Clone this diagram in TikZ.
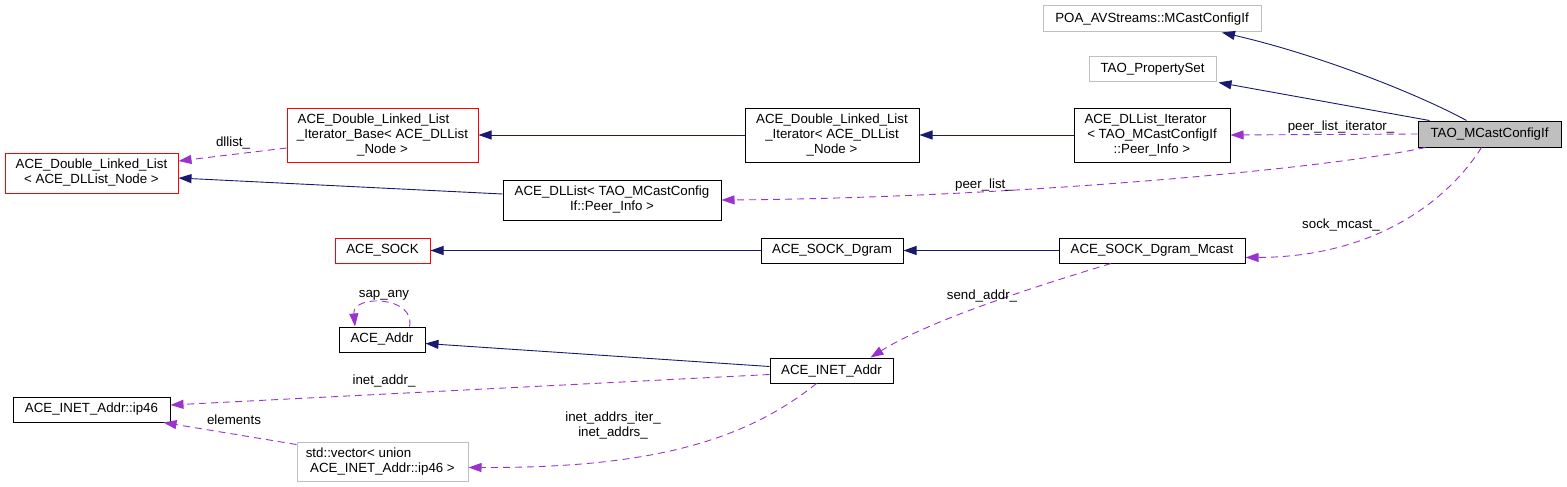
\documentclass[tikz,border=0pt]{standalone}
\usepackage{fontspec}
\setmainfont{Liberation Sans}
\usetikzlibrary{arrows.meta,calc}
\definecolor{navyedge}{HTML}{191970}
\definecolor{purpedge}{HTML}{9A32CD}
\definecolor{grayline}{HTML}{BFBFBF}
\definecolor{redline}{HTML}{FF0000}
\begin{document}
\begin{tikzpicture}[x=1pt,y=-1pt,
  txt/.style={font=\fontsize{13.3}{15}\selectfont},
  box/.style={txt,draw=black,line width=1pt,inner sep=0pt,align=center,fill=white},
  redbox/.style={box,draw=redline},
  graybox/.style={box,draw=grayline},
  lbl/.style={txt,inner sep=0pt,align=center},
  inh/.style={draw=navyedge,line width=0.9pt,-{Triangle[length=13pt,width=9pt]},color=navyedge},
  use/.style={draw=purpedge,line width=0.9pt,dash pattern=on 7pt off 5pt,-{Triangle[length=13pt,width=9pt]},color=purpedge}]
\useasboundingbox (0,0) rectangle (1567,487);
% nodes
\node[graybox,minimum width=218pt,minimum height=26pt] (poa) at (1152,19) {POA\_AVStreams::MCastConfigIf};
\node[graybox,minimum width=127pt,minimum height=25pt] (pset) at (1152.5,69.5) {TAO\_PropertySet};
\node[box,fill=grayline,minimum width=143pt,minimum height=26pt] (tao) at (1489.5,134) {TAO\_MCastConfigIf};
\node[box,minimum width=156pt,minimum height=54pt] (dlit) at (1152,135) {ACE\_DLList\_Iterator\hspace*{13pt}\\{}< TAO\_MCastConfigIf\\::Peer\_Info >};
\node[box,minimum width=174pt,minimum height=54pt] (dllit) at (832,135) {ACE\_Double\_Linked\_List\\\_Iterator< ACE\_DLList\hspace*{18pt}\\\_Node >};
\node[redbox,minimum width=191pt,minimum height=54pt] (itbase) at (382.5,135) {ACE\_Double\_Linked\_List\hspace*{18pt}\\\_Iterator\_Base< ACE\_DLList\\\_Node >};
\node[redbox,minimum width=173pt,minimum height=40pt] (dll) at (91.5,173) {ACE\_Double\_Linked\_List\\{}< ACE\_DLList\_Node >};
\node[box,minimum width=218pt,minimum height=40pt] (dllist) at (612,200) {ACE\_DLList< TAO\_MCastConfig\\If::Peer\_Info >};
\node[redbox,minimum width=95pt,minimum height=25pt] (sock) at (382.5,250.5) {ACE\_SOCK};
\node[box,minimum width=142pt,minimum height=25pt] (sockd) at (832,250.5) {ACE\_SOCK\_Dgram};
\node[box,minimum width=186pt,minimum height=25pt] (mcast) at (1152,250.5) {ACE\_SOCK\_Dgram\_Mcast};
\node[box,minimum width=86pt,minimum height=25pt] (addr) at (382,339.5) {ACE\_Addr};
\node[box,minimum width=123pt,minimum height=25pt] (inet) at (831.5,370.5) {ACE\_INET\_Addr};
\node[box,minimum width=157pt,minimum height=25pt] (ip46) at (91.5,409.5) {ACE\_INET\_Addr::ip46};
\node[graybox,minimum width=171pt,minimum height=39pt] (vec) at (382.5,461.5) {std::vector< union\hspace*{48pt}\\ACE\_INET\_Addr::ip46 >};
% edges
\draw[inh] ($(tao.north)+(-23,0)$) .. controls (1420,95) and (1320,55) .. ($(poa.south)+(70,0)$);
\draw[inh] ($(tao.north)+(-60,0)$) -- ($(pset.south east)+(2,0)$);
\draw[use] (tao.west) -- (dlit.east);
\node[lbl] (l1) at (1341,127) {peer\_list\_iterator\_};
\draw[inh] (dlit.west) -- (dllit.east);
\draw[inh] (dllit.west) -- (itbase.east);
\draw[use] ($(itbase.west)+(0,13)$) -- ($(dll.east)+(0,-12)$);
\node[lbl] (l2) at (233,143) {dllist\_};
\draw[inh] ($(dllist.west)+(0,-6)$) -- ($(dll.east)+(0,5)$);
\draw[use] ($(tao.south west)+(8,0)$) .. controls (1320,170) and (1000,198) .. (dllist.east);
\node[lbl] (l3) at (984,185) {peer\_list\_};
\draw[use] ($(tao.south)+(-8,0)$) .. controls (1445,205) and (1370,257) .. ($(mcast.east)+(0,7)$);
\node[lbl] (l4) at (1341,225) {sock\_mcast\_};
\draw[inh] (mcast.west) -- (sockd.east);
\draw[inh] (sockd.west) -- (sock.east);
\draw[use] ($(mcast.south)+(-41,0)$) .. controls (1040,285) and (930,320) .. ($(inet.north)+(39,0)$);
\node[lbl] (l5) at (982,296) {send\_addr\_};
\draw[inh] ($(inet.west)+(0,-4)$) -- ($(addr.east)+(0,4)$);
\draw[use] ($(addr.north east)+(-16,0)$) .. controls (416,296) and (352,294) .. ($(addr.north)+(-27,0)$);
\node[lbl] (l6) at (384,295) {sap\_any};
\draw[use] ($(inet.west)+(0,4)$) -- ($(ip46.east)+(0,-4.5)$);
\node[lbl] (l7) at (384,381) {inet\_addr\_};
\draw[use] ($(vec.north west)+(0,3)$) -- ($(ip46.south east)+(-7,0)$);
\node[lbl] (l8) at (234,420) {elements};
\draw[use] ($(inet.south)+(-15,0)$) .. controls (740,445) and (640,468) .. ($(vec.east)+(0,6)$);
\node[lbl] (l9) at (613,425) {inet\_addrs\_iter\_\\inet\_addrs\_};
\end{tikzpicture}
\end{document}
